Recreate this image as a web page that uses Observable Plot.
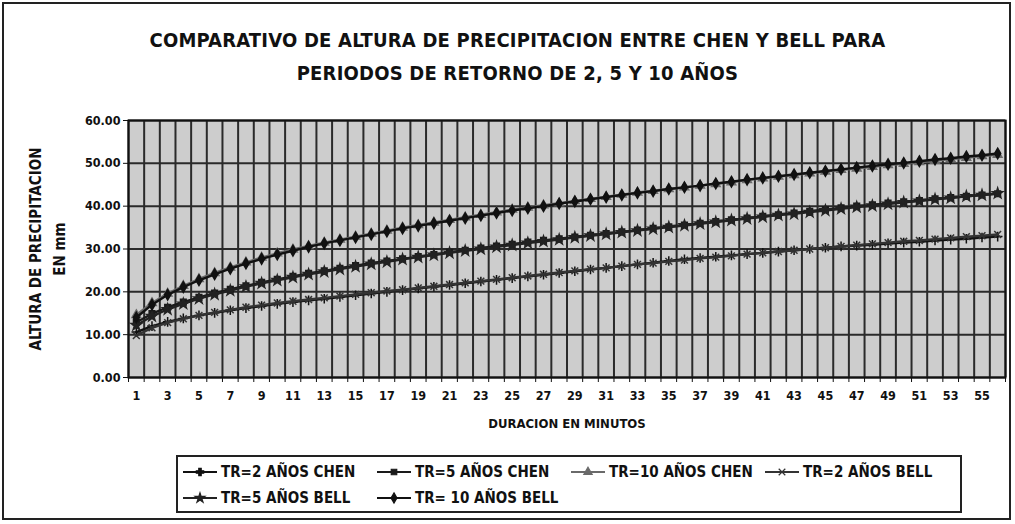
<!DOCTYPE html>
<html>
<head>
<meta charset="utf-8">
<script src="https://cdn.jsdelivr.net/npm/d3@7"></script>
<script src="https://cdn.jsdelivr.net/npm/@observablehq/plot@0.6"></script>
<style>
  html, body { margin: 0; padding: 0; background: #fff; }
  #wrap { position: relative; width: 1015px; height: 524px; overflow: hidden;
          font-family: "Liberation Sans Narrow", "DejaVu Sans Condensed", "Liberation Sans", sans-serif; }
  #border { position: absolute; left: 2px; top: 2px; width: 1009px; height: 518px; border: 2px solid #222; box-sizing: border-box; }
  #title { position: absolute; left: 0; top: 24px; width: 1035px; text-align: center; font-weight: bold;
           font-size: 20px; line-height: 33px; color: #111; letter-spacing: 0.2px; }
  #chart { position: absolute; left: 0; top: 100px; }
  #legend { position: absolute; left: 176px; top: 455px; width: 786px; height: 58px; border: 2px solid #222;
            box-sizing: border-box; font-weight: bold; font-size: 15px; color: #111; }
  .item { position: absolute; display: flex; align-items: center; white-space: nowrap; }
  .item svg { margin-right: 3px; }
</style>
</head>
<body>
<div id="wrap">
  <div id="border"></div>
  <div id="title">COMPARATIVO DE ALTURA DE PRECIPITACION ENTRE CHEN Y BELL PARA<br>PERIODOS DE RETORNO DE 2, 5 Y 10 AÑOS</div>
  <div id="chart"></div>
  <div id="legend"></div>
</div>
<script>
// Duration in minutes (categories)
const minutes = d3.range(1, 57);
const tickLabels = [1,3,5,7,9,11,13,15,17,19,21,23,25,27,29,31,33,35,37,39,41,43,45,47,49,51,53,55];
const yTicks = [0, 10, 20, 30, 40, 50, 60];

const seriesNames = ["TR=2 AÑOS CHEN", "TR=5 AÑOS CHEN", "TR=10 AÑOS CHEN", "TR=2 AÑOS BELL", "TR=5 AÑOS BELL", "TR= 10 AÑOS BELL"];

const tr2Chen = [10.6,12.0,13.0,13.8,14.5,15.1,15.7,16.2,16.7,17.2,17.6,18.0,18.4,18.8,19.2,19.6,20.0,20.4,20.8,21.2,21.6,22.0,22.4,22.8,23.2,23.6,24.0,24.4,24.8,25.2,25.6,26.0,26.4,26.8,27.2,27.6,27.9,28.2,28.5,28.8,29.1,29.4,29.7,30.0,30.3,30.6,30.8,31.0,31.3,31.5,31.7,32.0,32.2,32.4,32.7,32.9];
const tr5Chen = [12.9,14.9,16.4,17.6,18.7,19.7,20.6,21.4,22.2,22.9,23.6,24.3,24.9,25.5,26.1,26.7,27.2,27.7,28.2,28.7,29.2,29.7,30.2,30.7,31.1,31.6,32.0,32.4,32.8,33.2,33.6,34.0,34.4,34.8,35.2,35.6,36.0,36.4,36.8,37.2,37.6,38.0,38.4,38.8,39.2,39.6,40.0,40.3,40.7,41.0,41.3,41.7,42.0,42.3,42.6,42.9];
const tr10Chen = [14.6,17.4,19.6,21.4,23.0,24.4,25.7,26.9,28.0,29.0,29.9,30.7,31.5,32.2,32.9,33.6,34.3,35.0,35.6,36.2,36.8,37.4,38.0,38.6,39.2,39.7,40.2,40.7,41.2,41.7,42.2,42.7,43.2,43.6,44.0,44.4,44.8,45.2,45.6,46.1,46.5,46.9,47.3,47.7,48.1,48.5,48.8,49.2,49.6,49.9,50.3,50.6,51.0,51.3,51.7,52.0];
const tr2Bell = [9.8,11.6,12.8,13.7,14.5,15.2,15.8,16.4,16.9,17.4,17.8,18.2,18.6,19.0,19.4,19.8,20.2,20.5,20.9,21.3,21.7,22.1,22.5,22.9,23.3,23.7,24.1,24.5,24.9,25.3,25.6,26.0,26.4,26.7,27.1,27.4,27.8,28.1,28.4,28.8,29.1,29.4,29.7,30.0,30.3,30.6,30.9,31.2,31.5,31.8,32.0,32.3,32.6,32.9,33.1,33.4];
const tr5Bell = [12.2,14.3,15.9,17.2,18.4,19.4,20.3,21.2,22.0,22.7,23.4,24.1,24.7,25.3,25.9,26.5,27.0,27.6,28.1,28.6,29.1,29.6,30.0,30.5,30.9,31.4,31.8,32.2,32.7,33.1,33.5,33.9,34.3,34.7,35.1,35.5,35.9,36.3,36.7,37.1,37.5,37.9,38.2,38.6,39.0,39.4,39.8,40.1,40.5,40.9,41.2,41.6,41.9,42.3,42.6,43.0];
const tr10Bell = [14.0,17.0,19.3,21.1,22.7,24.1,25.4,26.6,27.7,28.7,29.6,30.5,31.3,32.0,32.7,33.4,34.1,34.8,35.4,36.0,36.6,37.2,37.8,38.4,39.0,39.5,40.0,40.6,41.1,41.6,42.1,42.6,43.1,43.5,44.0,44.4,44.8,45.3,45.7,46.2,46.6,47.0,47.4,47.8,48.2,48.6,49.0,49.4,49.8,50.1,50.5,50.9,51.2,51.6,51.9,52.3];

const seriesValues = [tr2Chen, tr5Chen, tr10Chen, tr2Bell, tr5Bell, tr10Bell];
const seriesSymbols = ["plus", "square", "triangle", "times", "star", "diamond"];
const seriesColors = ["#111", "#1a1a1a", "#6a6a6a", "#333", "#222", "#111"];

const data = seriesNames.flatMap((name, i) => minutes.map((m, j) => ({series: name, minute: m, value: seriesValues[i][j]})));
const bounds = d3.range(0, 57).map(k => k + 0.5);

const font = '"Liberation Sans Narrow", "DejaVu Sans Condensed", "Liberation Sans", sans-serif';

const marks = [
  Plot.frame({fill: "#cdcdcd", stroke: null}),
  Plot.ruleY(yTicks, {stroke: "#2a2a2a", strokeWidth: 2}),
  Plot.ruleX(bounds, {stroke: "#2a2a2a", strokeWidth: 2}),
  Plot.axisY({ticks: yTicks, tickFormat: d3.format(".2f"), tickSize: 5, tickPadding: 3, fontSize: 12.5, fontWeight: "bold", label: null}),
  Plot.axisX({ticks: bounds, tickFormat: () => "", tickSize: 5, label: null}),
  Plot.axisX({ticks: tickLabels, tickSize: 0, tickPadding: 14, fontSize: 12.5, fontWeight: "bold", tickFormat: d => String(d), label: null}),
  Plot.text(["DURACION EN MINUTOS"], {frameAnchor: "bottom", dy: 50, fontSize: 13, fontWeight: "bold", fill: "#111"}),
  Plot.text(["ALTURA DE PRECIPITACION\nEN mm"], {frameAnchor: "left", textAnchor: "middle", dx: -83, rotate: -90, fontSize: 15, fontWeight: "bold", lineHeight: 1.55, fill: "#111"})
];
seriesNames.forEach((name, i) => {
  const rows = data.filter(d => d.series === name);
  marks.push(Plot.line(rows, {x: "minute", y: "value", stroke: seriesColors[i], strokeWidth: 2.4}));
  marks.push(Plot.dot(rows, {x: "minute", y: "value", symbol: () => seriesSymbols[i], r: 3.2, stroke: seriesColors[i], fill: seriesColors[i], strokeWidth: 1.5}));
});
marks.push(Plot.frame({stroke: "#111", strokeWidth: 2}));

const chart = Plot.plot({
  width: 1015,
  height: 345,
  marginLeft: 128,
  marginRight: 10,
  marginTop: 20,
  marginBottom: 68,
  style: {fontFamily: font, background: "transparent", color: "#111"},
  x: {type: "linear", domain: [0.5, 56.5]},
  y: {domain: [0, 60]},
  symbol: {type: "ordinal"},
  marks
});
document.getElementById("chart").appendChild(chart);

// Legend
const legend = document.getElementById("legend");
const pos = [[4, 6], [198, 6], [392, 6], [586, 6], [4, 32], [198, 32]];
const symMap = {plus: d3.symbolCross, square: d3.symbolSquare, triangle: d3.symbolTriangle, times: d3.symbolTimes, star: d3.symbolStar, diamond: d3.symbolDiamond};
seriesNames.forEach((name, i) => {
  const div = document.createElement("div");
  div.className = "item";
  div.style.left = pos[i][0] + "px";
  div.style.top = pos[i][1] + "px";
  const path = d3.symbol(symMap[seriesSymbols[i]], 30)();
  div.innerHTML = `<svg width="36" height="14"><line x1="1" y1="7" x2="35" y2="7" stroke="${seriesColors[i]}" stroke-width="2"/><path d="${path}" transform="translate(18,7)" fill="${seriesColors[i]}" stroke="${seriesColors[i]}" stroke-width="1.2"/></svg><span>${name}</span>`;
  legend.appendChild(div);
});
</script>
</body>
</html>
